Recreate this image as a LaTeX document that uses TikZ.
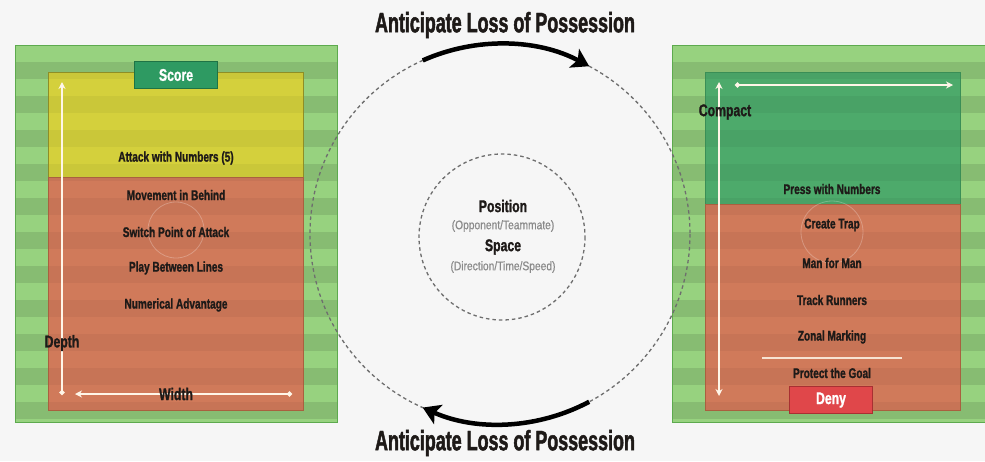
\documentclass[tikz,border=0pt]{standalone}
\usepackage{fontspec}
\setmainfont{Liberation Sans}
\newfontfamily\cnd[FakeStretch=0.72,FakeBold=1.2]{Liberation Sans}
\newfontfamily\ttl[FakeStretch=0.64,FakeBold=1.6]{Liberation Sans}
\newfontfamily\thn[FakeStretch=0.82,FakeBold=0.6]{Liberation Sans}
\usetikzlibrary{arrows.meta}
\definecolor{bg}{HTML}{F6F6F6}
\definecolor{grassL}{HTML}{97D27F}
\definecolor{grassB}{HTML}{5DAA4E}
\definecolor{yel}{HTML}{D4D03C}
\definecolor{yelB}{HTML}{8E8E26}
\definecolor{org}{HTML}{D07A5A}
\definecolor{orgB}{HTML}{A9603F}
\definecolor{grn}{HTML}{4DAA6B}
\definecolor{grnB}{HTML}{3A8E56}
\definecolor{scoreC}{HTML}{2E9A62}
\definecolor{scoreB}{HTML}{1E7345}
\definecolor{denyC}{HTML}{E0474A}
\definecolor{denyB}{HTML}{A83032}
\definecolor{txt}{HTML}{1E1A18}
\definecolor{circ}{HTML}{6E6E6E}
\definecolor{gtxt}{HTML}{8A8A8A}
\definecolor{chalk}{HTML}{FFF6E8}
\begin{document}
\begin{tikzpicture}[x=1pt,y=-1pt,
  lbl/.style={font=\cnd\bfseries\fontsize{14}{14}\selectfont, text=txt, inner sep=0pt},
  big/.style={font=\cnd\bfseries\fontsize{17}{17}\selectfont, text=txt, inner sep=0pt},
  ttlstyle/.style={font=\ttl\bfseries\fontsize{28}{28}\selectfont, text=txt, inner sep=0pt},
  sub/.style={font=\thn\fontsize{12.5}{12.5}\selectfont, text=gtxt, inner sep=0pt},
  tagbox/.style={draw=#1, line width=1.2pt, minimum width=83pt, minimum height=27pt, inner sep=0pt,
     font=\cnd\bfseries\fontsize{17}{17}\selectfont, text=white},
  chalkline/.style={draw=chalk, line width=1.6pt},
  dashcirc/.style={draw=circ, line width=1.3pt, dash pattern=on 3.5pt off 3pt},
  bigarrow/.style={line width=4.5pt, -{Stealth[length=17pt,width=21pt,inset=4pt]}}
]
\useasboundingbox (0,0) rectangle (985,461);
\fill[bg] (0,0) rectangle (985,461);

% ---------- left field ----------
\fill[grassL] (15,45) rectangle (337,422);
\begin{scope}
  \clip (15,45) rectangle (337,422);
  \foreach \i in {0,...,10} {
    \fill[black, opacity=0.1] (15,{62+34*\i}) rectangle (337,{79+34*\i});
  }
\end{scope}
\fill[yel] (48,72) rectangle (303,177);
\fill[org] (48,177) rectangle (303,410);
\begin{scope}
  \clip (48,72) rectangle (303,410);
  \foreach \i in {0,...,10} {
    \fill[black, opacity=0.045] (48,{62+34*\i}) rectangle (303,{79+34*\i});
  }
\end{scope}
\draw[grassB, line width=1pt] (15,45) rectangle (337,422);
\draw[yelB, line width=0.8pt] (48,72) rectangle (303,177);
\draw[orgB, line width=0.8pt] (48,177) rectangle (303,410);
\draw[white, opacity=0.25, line width=0.8pt] (176,230) circle[radius=28];

% ---------- right field ----------
\fill[grassL] (672,45) rectangle (990,422);
\begin{scope}
  \clip (672,45) rectangle (990,422);
  \foreach \i in {0,...,10} {
    \fill[black, opacity=0.1] (672,{62+34*\i}) rectangle (990,{79+34*\i});
  }
\end{scope}
\fill[grn] (705,72) rectangle (960,204);
\fill[org] (705,204) rectangle (960,410);
\begin{scope}
  \clip (705,72) rectangle (960,410);
  \foreach \i in {0,...,10} {
    \fill[black, opacity=0.045] (705,{62+34*\i}) rectangle (960,{79+34*\i});
  }
\end{scope}
\draw[grassB, line width=1pt] (672,45) rectangle (990,422);
\draw[grnB, line width=0.8pt] (705,72) rectangle (960,204);
\draw[orgB, line width=0.8pt] (705,204) rectangle (960,410);
\draw[white, opacity=0.25, line width=0.8pt] (832,232) circle[radius=31];

% ---------- chalk arrows ----------
\coordinate (dBot) at (62,395);
\coordinate (dTop) at (62,82);
\coordinate (wL) at (75,394);
\coordinate (wR) at (292,394);
\draw[chalkline, {Circle[length=5pt]}-{Stealth[length=7pt,width=7pt]}] (dBot) -- (dTop);
\draw[chalkline, {Stealth[length=7pt,width=7pt]}-{Circle[length=5pt]}] (wL) -- (wR);

\coordinate (cL) at (735,85);
\coordinate (cR) at (953,85);
\coordinate (vTop) at (719,82);
\coordinate (vBot) at (719,396);
\draw[chalkline, {Circle[length=5pt]}-{Stealth[length=7pt,width=7pt]}] (cL) -- (cR);
\draw[chalkline, {Stealth[length=7pt,width=7pt]}-{Stealth[length=7pt,width=7pt]}] (vBot) -- (vTop);
\coordinate (gL) at (762,358);
\coordinate (gR) at (902,358);
\draw[chalk, opacity=0.85, line width=1.6pt] (gL) -- (gR);

% ---------- left texts ----------
\node[tagbox=scoreB, fill=scoreC] (score) at (176,75) {Score};
\node[lbl] (l0) at (176,158) {Attack with Numbers (5)};
\node[lbl] (l1) at (176,195) {Movement in Behind};
\node[lbl] (l2) at (176,232) {Switch Point of Attack};
\node[lbl] (l3) at (176,268) {Play Between Lines};
\node[lbl] (l4) at (176,305) {Numerical Advantage};
\node[big] (depth) at (62,343) {Depth};
\node[big] (width) at (176,394) {Width};

% ---------- right texts ----------
\node[big] (compact) at (725,112) {Compact};
\node[lbl] (r0) at (832,189) {Press with Numbers};
\node[lbl] (r1) at (832,225) {Create Trap};
\node[lbl] (r2) at (832,263) {Man for Man};
\node[lbl] (r3) at (832,300) {Track Runners};
\node[lbl] (r4) at (832,337) {Zonal Marking};
\node[lbl] (r5) at (832,373) {Protect the Goal};
\node[tagbox=denyB, fill=denyC] (deny) at (831,400) {Deny};

% ---------- centre ----------
\coordinate (C) at (500,234);
\draw[dashcirc] (C) circle[radius=190];
\coordinate (C2) at (502,237);
\draw[dashcirc] (C2) circle[radius=83];
\node[big] (pos) at (503,206) {Position};
\node[sub] (posS) at (503,226) {(Opponent/Teammate)};
\node[big] (spc) at (503,247) {Space};
\node[sub] (spcS) at (503,267) {(Direction/Time/Speed)};

\draw[bigarrow] (C) ++(-114:190) arc[start angle=-114, end angle=-62, radius=190];
\draw[bigarrow] (C) ++(62:190) arc[start angle=62, end angle=114, radius=190];

\node[ttlstyle] (topT) at (505,25) {Anticipate Loss of Possession};
\node[ttlstyle] (botT) at (505,443) {Anticipate Loss of Possession};
\end{tikzpicture}
\end{document}
